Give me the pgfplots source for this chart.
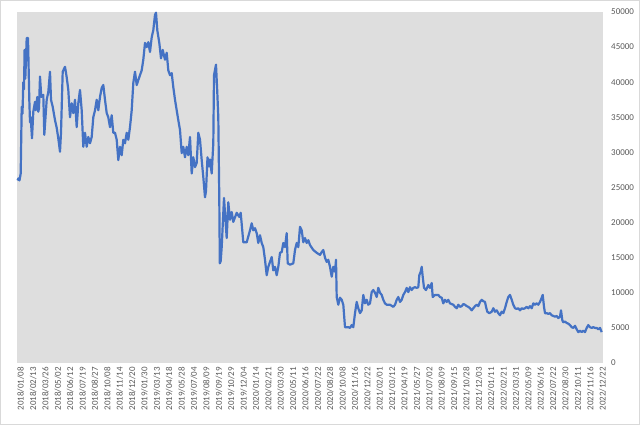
\documentclass[border=0pt]{standalone}
\usepackage{pgfplots}
\pgfplotsset{compat=1.18}
\usepackage{fontspec}
\setmainfont{Carlito}
\definecolor{plotbg}{RGB}{222,222,222}
\definecolor{framegray}{RGB}{217,217,217}
\definecolor{labelgray}{RGB}{89,89,89}
\definecolor{lineblue}{RGB}{68,114,196}
\begin{document}
\begin{tikzpicture}
\draw[framegray, line width=0.75bp] (0.375bp,0.375bp) rectangle (639.625bp,424.625bp);
\begin{axis}[
  at={(17bp,62bp)}, anchor=south west,
  scale only axis, width=586bp, height=351bp,
  xmin=17, xmax=603, ymin=0, ymax=50000,
  axis background/.style={fill=plotbg},
  axis line style={draw=none},
  major tick length=0pt,
  scaled y ticks=false,
  ytick={0,5000,10000,15000,20000,25000,30000,35000,40000,45000,50000},
  yticklabel pos=right,
  ticklabel style={font=\fontsize{9}{10}\selectfont, text=labelgray},
  yticklabel style={/pgf/number format/1000 sep={}, /pgf/number format/assume math mode=true, anchor=west, inner sep=0pt, xshift=8bp},
  xtick={20.70,33.08,45.47,57.85,70.23,82.62,95.00,107.38,119.76,132.15,144.53,156.91,169.30,181.68,194.06,206.45,218.83,231.21,243.59,255.98,268.36,280.74,293.13,305.51,317.89,330.28,342.66,355.04,367.42,379.81,392.19,404.57,416.96,429.34,441.72,454.11,466.49,478.87,491.25,503.64,516.02,528.40,540.79,553.17,565.55,577.94,590.32,602.70},
  xticklabels={2018/01/08,2018/02/13,2018/03/26,2018/05/02,2018/06/12,2018/07/19,2018/08/27,2018/10/08,2018/11/14,2018/12/20,2019/01/30,2019/03/13,2019/04/18,2019/05/28,2019/07/04,2019/08/09,2019/09/19,2019/10/29,2019/12/04,2020/01/14,2020/02/21,2020/03/30,2020/05/11,2020/06/16,2020/07/22,2020/08/28,2020/10/08,2020/11/16,2020/12/22,2021/02/01,2021/03/12,2021/04/19,2021/05/27,2021/07/02,2021/08/09,2021/09/15,2021/10/28,2021/12/03,2022/01/11,2022/02/21,2022/03/31,2022/05/09,2022/06/16,2022/07/22,2022/08/30,2022/10/11,2022/11/16,2022/12/22},
  xticklabel style={rotate=90, anchor=east, inner xsep=4bp, inner ysep=0pt},
  clip=false,
]
\addplot[lineblue, line width=2.2bp, line join=round, mark=none] coordinates {
(17.5,26000)(18.5,26300)(19.5,26000)(20.7,27000)(21.7,36500)(22.5,35500)(23.3,40000)(24.0,39000)(24.6,44600)(25.3,40500)(26.7,46300)(28,46300)
(29.3,37500)(30.0,34300)(30.7,35000)(32,32000)(33.3,35800)(35,37200)(35.7,36000)(37.3,37900)(38.3,35800)(39,36300)(40,40800)(41.3,37900)(43.3,38200)(44.3,32500)(46.7,37500)
(48.3,38600)(50,41500)(51,37500)(52.7,36500)(55,34600)(56.7,33500)(58.3,32000)(60,30100)(61,32800)(62.7,41500)(65,42200)(66.7,40700)
(68.3,38900)(70,35000)(71.7,37000)(73.3,35600)(75,37500)(76.7,33600)(78.3,37000)(80,38900)(81.7,36000)(83.3,30800)(85,32800)(86.7,30800)
(88.3,32200)(90,31300)(91.7,32200)(93.3,35000)(95,36000)(96.7,37500)(98.3,36000)(100,37900)(101.7,39200)(103.3,39600)(105,37500)(106.7,35600)
(108.3,35000)(110,33600)(111.7,35300)(113.3,32800)(115,32800)(116.7,31800)(118.3,28900)(120,30800)(121.7,29600)(123.3,31800)(125,31300)(126.7,32800)
(128.3,31800)(130,33600)(131.7,36000)(133.3,39900)(135,41500)(136.7,39600)(138.3,40300)(140,41000)(141.7,41700)(143.3,43200)(145,45600)(146.7,45000)
(148.3,45700)(150,44300)(151.7,46400)(153.3,47400)(155,49600)(156,49900)(157.3,47400)(159.3,45600)(161,43400)(162.7,44600)(165,43200)(166.7,44200)
(168.3,41700)(170,41000)(171.7,41300)(173.3,39300)(175,37500)(176.7,36000)(178.3,34600)(180,33200)(181.7,29900)(183.3,30800)(185,29300)(186.7,30800)
(188.3,29600)(190,32200)(191.7,27000)(193.3,29300)(195,27900)(196.7,28500)(198.3,32800)(200,31800)(201.7,28900)(203.3,26500)(205,23600)(206,24500)
(207.5,29300)(209,28000)(210,29000)(211.7,27000)(213.3,31300)(214,41000)(216,42500)(217.3,38500)(218.3,35000)(219.3,23200)(219.8,14200)(220.7,14500)
(221.7,16500)(224,23500)(225.7,19900)(226.7,17800)(228.3,22900)(230,20400)(231.7,21500)(233.3,20100)(236.7,21400)(239.3,20800)(240.7,21400)(243.3,17200)
(246.7,17200)(250,18900)(251.7,19900)(253.3,18900)(255,19200)(256.7,18500)(258.3,17100)(260,18200)(261.7,17100)(263.3,16500)(265,14700)(266.7,12500)
(268.3,13700)(270,14400)(271.7,15100)(273.3,13200)(275,13700)(276.7,12500)(278.3,13700)(280,15700)(281.7,15800)(283.3,17100)(285,16500)(286.7,18500)
(287.7,14200)(290,14000)(293.3,14200)(295,16100)(296.7,17100)(298.3,16500)(300,19400)(301.7,18900)(303.3,17200)(305,17800)(306.7,17100)(308.3,17500)
(310,16800)(313.3,16100)(316.7,15700)(320,15400)(321.7,15800)(323.3,16100)(325,15000)(326.7,14400)(328.3,14700)(330,13700)(331.7,12300)(333.3,13700)
(335,13000)(336,14700)(336.7,9400)(338.3,8300)(340,9300)(341.7,9000)(343.3,8300)(345,5100)(348.3,5100)(350,5000)(351.7,5400)(353.3,5100)
(355,7100)(356.7,8700)(358.3,7800)(360,7100)(361.7,7500)(363.3,9700)(365,8500)(366.7,9000)(368.3,8300)(370,8500)(371.7,10100)(373.3,10400)
(375,10000)(376.7,9400)(378.3,10700)(380,10000)(381.7,9700)(383.3,9000)(385,8500)(386.7,8300)(390,8300)(393.3,8000)(395,8300)(396.7,9000)
(398.3,9400)(400,8700)(401.7,9000)(403.3,9700)(405,10100)(406.7,10700)(408.3,10100)(410,10800)(411.7,10400)(413.3,10700)(415,10800)(416.7,10700)
(418.3,10800)(419.3,12500)(420.7,13000)(421.7,13700)(422.7,12300)(424,10700)(426,10400)(428.3,11100)(430,10700)(431.7,11400)(432.7,9400)(435,9700)
(438.3,9700)(440,9400)(441.7,9300)(443.3,8500)(445,9000)(446.7,8700)(448.3,9000)(450,8500)(451.7,8400)(453.3,8300)(455,8000)(456.7,7800)
(458.3,8300)(460,8000)(461.7,8100)(463.3,8400)(465,8300)(466.7,8100)(468.3,8000)(470,7800)(471.7,7500)(473.3,7800)(475,8100)(476.7,8300)
(478.3,8100)(480,8700)(481.7,9000)(483.3,8800)(485,8700)(486,8000)(487.3,7300)(489.3,7100)(491.7,7300)(493.3,7800)(495,7300)(496.7,7500)
(498.3,7100)(500,6800)(501.7,7300)(503.3,7100)(505,7800)(506.7,8700)(508.3,9400)(510,9700)(511.7,9000)(513.3,8300)(515,7800)(516.7,7700)
(518.3,7800)(520,7500)(521.7,7800)(523.3,7700)(525,7800)(526.7,8000)(528.3,7800)(530,8100)(531.7,7800)(533.3,8500)(535,8300)(536.7,8500)
(538.3,8300)(540,8700)(541.7,9300)(542.7,9700)(544,8000)(545,7100)(546.7,7100)(548.3,7000)(550,7100)(551.7,6800)(553.3,6700)(555,6600)
(556.7,6700)(558.3,6400)(560,6600)(561,7500)(562.3,6100)(563.3,5800)(565,5900)(566.7,5700)(568.3,5600)(570,5400)(571.7,5100)(573.3,5000)
(575,5300)(576.7,4800)(578.3,4400)(580,4600)(581.7,4400)(583.3,4600)(585,4400)(586.7,5000)(588.3,5400)(590,5100)(591.7,5000)(593.3,5100)
(595,5000)(596.7,5000)(598.3,4800)(600,5000)(601.7,4400)
};
\end{axis}
\end{tikzpicture}
\end{document}
